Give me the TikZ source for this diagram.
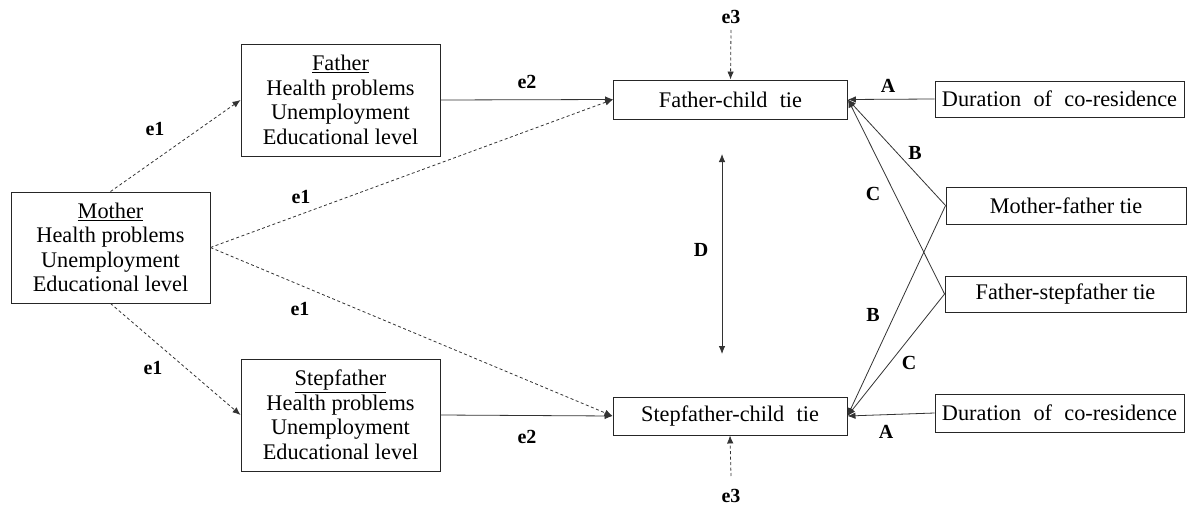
\documentclass[tikz,border=0pt]{standalone}
\usepackage{fontspec}
\setmainfont{Liberation Serif}
\usetikzlibrary{arrows.meta}
\begin{document}
\begin{tikzpicture}[x=1pt,y=-1pt,
  box/.style={draw=black!85, line width=0.9pt, align=center, inner sep=0pt,
    font=\fontsize{22.3}{24.5}\selectfont},
  lab/.style={font=\fontsize{20}{22}\selectfont\bfseries, inner sep=1pt},
  conn/.style={draw=black!80, line width=0.8pt, -{Latex[length=8pt,width=6.5pt]}},
  dconn/.style={conn, dash pattern=on 3pt off 2.5pt},
  plain/.style={draw=black!80, line width=0.8pt}
]
\useasboundingbox (0,0) rectangle (1190,508);
% boxes
\node[box, minimum width=199pt, minimum height=111pt] (mother) at (110.5,247.5)
  {\underline{Mother}\\Health problems\\Unemployment\\Educational level};
\node[box, minimum width=199pt, minimum height=112pt] (father) at (340.5,100)
  {\underline{Father}\\Health problems\\Unemployment\\Educational level};
\node[box, minimum width=199pt, minimum height=112pt] (step) at (340.5,415)
  {\underline{Stepfather}\\Health problems\\Unemployment\\Educational level};
\node[box, minimum width=234pt, minimum height=39pt] (fc) at (730.5,99.5)
  {Father-child\hspace{0.55em}tie};
\node[box, minimum width=234pt, minimum height=38pt] (sc) at (730,416)
  {Stepfather-child\hspace{0.55em}tie};
\node[box, minimum width=249pt, minimum height=36pt] (dur1) at (1059.5,99)
  {Duration\hspace{0.3em} of\hspace{0.3em} co-residence};
\node[box, minimum width=240pt, minimum height=37pt] (mf) at (1066,205.5)
  {Mother-father tie};
\node[box, minimum width=241pt, minimum height=36pt] (fs) at (1065.5,294)
  {Father-stepfather tie};
\node[box, minimum width=249pt, minimum height=38pt] (dur2) at (1059.5,413)
  {Duration\hspace{0.3em} of\hspace{0.3em} co-residence};
% e3 sources
\coordinate (e3t) at (731,30);
\coordinate (e3b) at (731,476);
\node[lab] (le3t) at (731,17) {e3};
\node[lab] (le3b) at (731,496) {e3};
% D arrow
\coordinate (dt) at (722,154);
\coordinate (db) at (722,354);
\draw[plain, {Latex[length=8pt,width=6.5pt]}-{Latex[length=8pt,width=6.5pt]}] (dt) -- (db);
\node[lab] (ld) at (701,250) {D};
% connectors
\draw[dconn] (mother.north) -- (father.west);
\draw[dconn] (mother.south) -- (step.west);
\draw[dconn] (mother.east) -- (fc.west);
\draw[dconn] (mother.east) -- (sc.west);
\draw[conn] (father.east) -- (fc.west);
\draw[conn] (step.east) -- (sc.west);
\draw[dconn] (e3t) -- (fc.north);
\draw[dconn] (e3b) -- (sc.south);
\draw[conn] (dur1.west) -- (fc.east);
\draw[conn] (dur2.west) -- (sc.east);
\draw[conn] (mf.west) -- (fc.east);
\draw[conn] (fs.west) -- (fc.east);
\draw[conn] (mf.west) -- (sc.east);
\draw[conn] (fs.west) -- (sc.east);
% labels
\node[lab] (l1) at (155,129) {e1};
\node[lab] (l2) at (301,197) {e1};
\node[lab] (l3) at (300,309) {e1};
\node[lab] (l4) at (153,368) {e1};
\node[lab] (l5) at (527,82) {e2};
\node[lab] (l6) at (527,437) {e2};
\node[lab] (la1) at (888,86) {A};
\node[lab] (la2) at (886,432) {A};
\node[lab] (lb1) at (915,153) {B};
\node[lab] (lb2) at (873,315) {B};
\node[lab] (lc1) at (873,194) {C};
\node[lab] (lc2) at (909,363) {C};
\end{tikzpicture}
\end{document}
